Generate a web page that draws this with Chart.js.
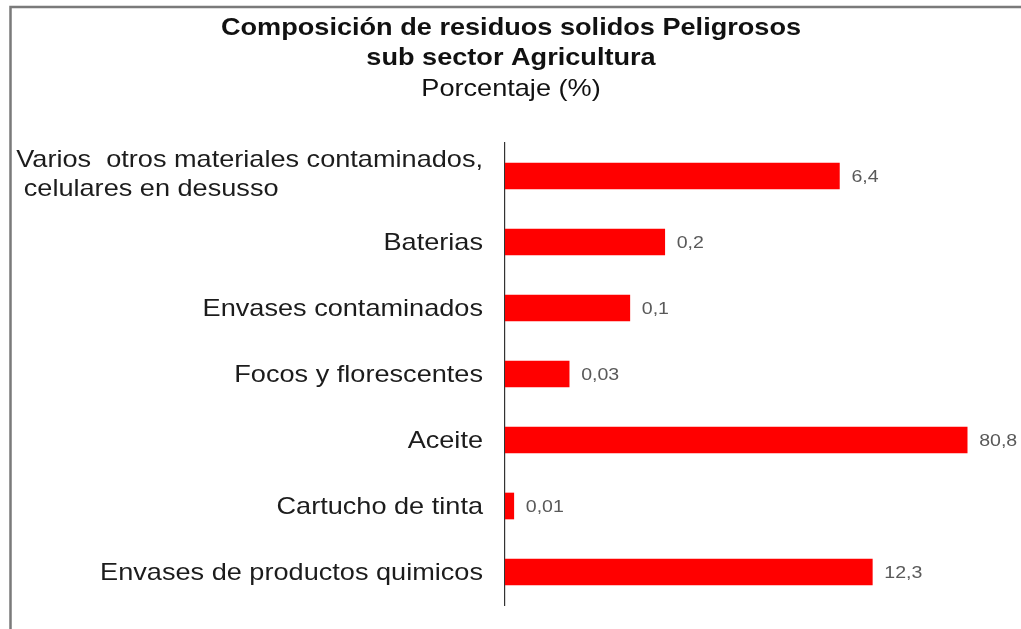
<!DOCTYPE html>
<html>
<head>
<meta charset="utf-8">
<script src="https://cdn.jsdelivr.net/npm/chart.js@4/dist/chart.umd.min.js"></script>
<style>
  html, body { margin: 0; padding: 0; background: #fff; }
  #wrap { width: 1021px; height: 629px; position: relative; }
</style>
</head>
<body>
<div id="wrap"><canvas id="c" width="1021" height="629"></canvas></div>
<script>
// ---- data ----
const titleLines = ["Composición de residuos solidos Peligrosos", "sub sector Agricultura"];
const subtitleText = "Porcentaje (%)";
const categories = [
  ["Varios  otros materiales contaminados,", " celulares en desusso"],
  "Baterias",
  "Envases contaminados",
  "Focos y florescentes",
  "Aceite",
  "Cartucho de tinta",
  "Envases de productos quimicos"
];
const values = [6.4, 0.2, 0.1, 0.03, 80.8, 0.01, 12.3];
const valueLabels = ["6,4", "0,2", "0,1", "0,03", "80,8", "0,01", "12,3"];

const FONT = "'Liberation Sans', Arial, sans-serif";

function stretchedText(ctx, text, x, y, align, font, color, stretch) {
  ctx.save();
  ctx.font = font;
  ctx.fillStyle = color;
  ctx.textBaseline = 'middle';
  const w = ctx.measureText(text).width * stretch;
  let left = x;
  if (align === 'right') left = x - w;
  else if (align === 'center') left = x - w / 2;
  ctx.translate(left, y);
  ctx.scale(stretch, 1);
  ctx.textAlign = 'left';
  ctx.fillText(text, 0, 0);
  ctx.restore();
  return w;
}

const decorPlugin = {
  id: 'decor',
  beforeDraw(chart) {
    const ctx = chart.ctx;
    ctx.save();
    ctx.fillStyle = '#fff';
    ctx.fillRect(0, 0, chart.width, chart.height);
    ctx.strokeStyle = '#7a7a7a';
    ctx.lineWidth = 2.5;
    ctx.beginPath();
    ctx.moveTo(10.5, chart.height);
    ctx.lineTo(10.5, 7);
    ctx.lineTo(chart.width, 7);
    ctx.stroke();
    ctx.restore();
  },
  afterDraw(chart) {
    const ctx = chart.ctx;
    const area = chart.chartArea;
    const TS = 1.13;
    // titles
    stretchedText(ctx, titleLines[0], 511, 28, 'center', "bold 24px " + FONT, '#111', TS);
    stretchedText(ctx, titleLines[1], 511, 58, 'center', "bold 24px " + FONT, '#111', TS);
    stretchedText(ctx, subtitleText, 511, 89, 'center', "24px " + FONT, '#111', TS);
    // category labels
    const yScale = chart.scales.y;
    const labelRight = area.left - 22;
    const lf = "24px " + FONT;
    categories.forEach((lab, i) => {
      const cy = yScale.getPixelForValue(i);
      if (Array.isArray(lab)) {
        ctx.save(); ctx.font = lf;
        const maxW = Math.max(...lab.map(l => ctx.measureText(l).width)) * TS;
        ctx.restore();
        const lh = 29;
        const startY = cy - (lab.length - 1) * lh / 2 - 1;
        lab.forEach((l, j) => stretchedText(ctx, l, labelRight - maxW, startY + j * lh, 'left', lf, '#1c1c1c', TS));
      } else {
        stretchedText(ctx, lab, labelRight, cy + 1, 'right', lf, '#1c1c1c', TS);
      }
    });
    // value labels
    const meta = chart.getDatasetMeta(0);
    meta.data.forEach((bar, i) => {
      stretchedText(ctx, valueLabels[i], bar.x + 12, bar.y + 1, 'left', "17px " + FONT, '#595959', 1.15);
    });
  }
};

new Chart(document.getElementById('c'), {
  type: 'bar',
  data: {
    labels: categories,
    datasets: [{
      data: values,
      backgroundColor: '#ff0000',
      borderWidth: 0,
      barThickness: 26
    }]
  },
  options: {
    indexAxis: 'y',
    responsive: false,
    animation: false,
    layout: { padding: { left: 0, right: 21, top: 143, bottom: 24 } },
    plugins: {
      legend: { display: false },
      title: { display: false },
      tooltip: { enabled: false }
    },
    scales: {
      x: {
        type: 'logarithmic',
        min: 0.0084,
        max: 155,
        display: false
      },
      y: {
        display: true,
        ticks: { display: false },
        grid: { display: false, drawTicks: false },
        border: { display: true, color: '#333', width: 1.2 },
        afterFit(scale) { scale.width = 505; }
      }
    }
  },
  plugins: [decorPlugin]
});
</script>
</body>
</html>
